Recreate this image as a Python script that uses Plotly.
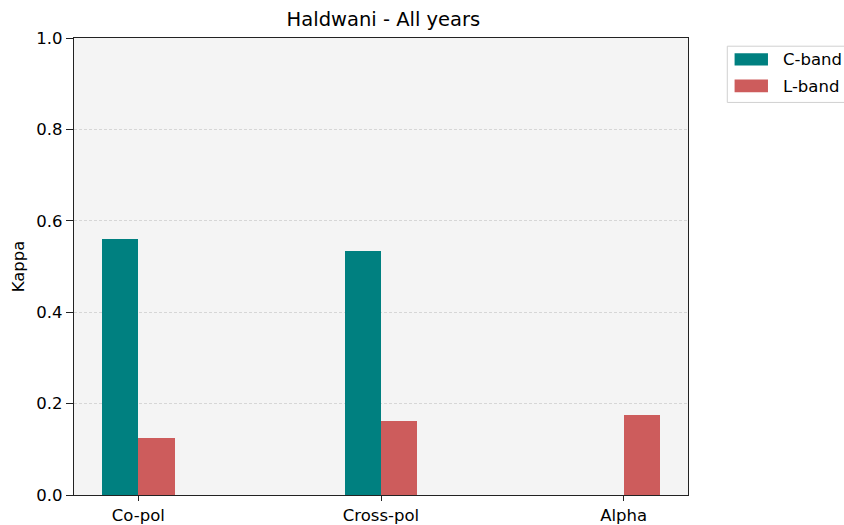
import plotly.graph_objects as go

# Kappa agreement per polarisation feature, Haldwani (all years)
categories = ["Co-pol", "Cross-pol", "Alpha"]
c_band = [0.560, 0.535, 0.0]
l_band = [0.124, 0.162, 0.175]
series_names = ["C-band", "L-band"]
colors = ["#008080", "#CD5C5C"]
y_ticks = [0.0, 0.2, 0.4, 0.6, 0.8, 1.0]

W, H = 844, 525
L, R, T, B = 73.5, 156.3, 37.5, 30
pw, ph = W - L - R, H - T - B

xpos = list(range(len(categories)))
bar_w = 0.15

fig = go.Figure()
fig.add_trace(go.Bar(x=xpos, y=c_band, width=bar_w, offset=-bar_w,
                     marker=dict(color=colors[0], line=dict(width=0)),
                     name=series_names[0], showlegend=False))
fig.add_trace(go.Bar(x=xpos, y=l_band, width=bar_w, offset=0,
                     marker=dict(color=colors[1], line=dict(width=0)),
                     name=series_names[1], showlegend=False))

font = dict(family="DejaVu Sans", size=16.5, color="#000000")

def px_x(x):
    return (x - L) / pw

def px_y(y):
    return 1 - (y - T) / ph

# Legend box and entries
shapes = []
shapes.append(dict(type="rect", xref="paper", yref="paper",
                   x0=px_x(727), x1=px_x(880), y0=px_y(102), y1=px_y(45.7),
                   line=dict(color="#d0d0d0", width=1), fillcolor="white", layer="above"))
annotations = []
rows = [(52.7, 65.0, 59.5), (79.0, 91.7, 86.0)]
for (y0, y1, yc), name, col in zip(rows, series_names, colors):
    shapes.append(dict(type="rect", xref="paper", yref="paper",
                       x0=px_x(734.3), x1=px_x(767.7), y0=px_y(y1), y1=px_y(y0),
                       line=dict(width=0), fillcolor=col, layer="above"))
    annotations.append(dict(text=name, xref="paper", yref="paper",
                            x=px_x(781), y=px_y(yc), xanchor="left", yanchor="middle",
                            showarrow=False, font=font))

fig.update_layout(
    width=W, height=H,
    margin=dict(l=L, r=R, t=T, b=B, pad=0),
    paper_bgcolor="white", plot_bgcolor="#f4f4f4",
    font=font,
    title=dict(text="Haldwani - All years", x=px_x(383), xref="paper",
               xanchor="center", y=1 - 19 / H, yanchor="middle",
               font=dict(family="DejaVu Sans", size=19.5, color="#000000")),
    bargap=0,
    shapes=shapes, annotations=annotations,
    xaxis=dict(range=[-0.265, 2.265], tickvals=xpos, ticktext=categories,
               showgrid=False, zeroline=False, showline=True, mirror=True,
               linecolor="#222222", linewidth=1.2, ticks="outside", ticklen=5,
               tickcolor="#222222", tickwidth=1, tickfont=font, automargin=False),
    yaxis=dict(range=[0, 1.0], tickvals=y_ticks, ticktext=[f"{v:.1f}" for v in y_ticks],
               showgrid=True, gridcolor="#d6d6d6", griddash="3px,2px", gridwidth=0.8,
               zeroline=False, showline=True, mirror=True,
               linecolor="#222222", linewidth=1.2, ticks="outside", ticklen=7,
               tickcolor="#222222", tickwidth=1, tickfont=font, automargin=False,
               title=dict(text="Kappa", font=font, standoff=7)),
)

fig.write_html("out.html")
